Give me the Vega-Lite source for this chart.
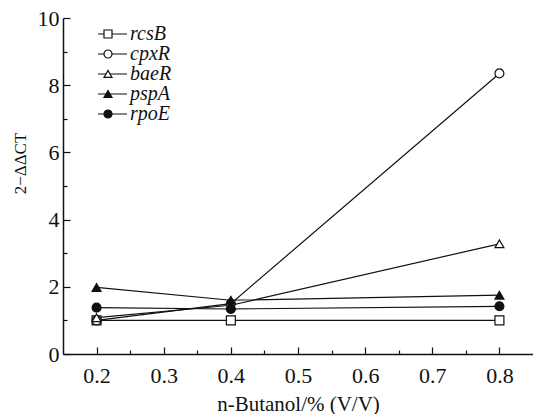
{
  "$schema": "https://vega.github.io/schema/vega-lite/v6.json",
  "width": 470,
  "height": 336,
  "autosize": "none",
  "padding": {"left": 63, "top": 18, "right": 0, "bottom": 60},
  "background": "white",
  "config": {
    "view": {"stroke": null},
    "font": "Liberation Serif",
    "axis": {
      "grid": false,
      "domainColor": "#111",
      "domainWidth": 1.5,
      "tickColor": "#111",
      "tickWidth": 1.2,
      "labelColor": "#111",
      "titleColor": "#111",
      "labelFont": "Liberation Serif",
      "titleFont": "Liberation Serif",
      "labelFontSize": 22,
      "titleFontSize": 21,
      "titleFontWeight": "normal"
    },
    "legend": {"labelFont": "Liberation Serif"}
  },
  "data": {
    "values": [
      {"gene": "rcsB", "conc": 0.2, "value": 1.0},
      {"gene": "rcsB", "conc": 0.4, "value": 1.0},
      {"gene": "rcsB", "conc": 0.8, "value": 1.0},
      {"gene": "cpxR", "conc": 0.2, "value": 1.0},
      {"gene": "cpxR", "conc": 0.4, "value": 1.5},
      {"gene": "cpxR", "conc": 0.8, "value": 8.35},
      {"gene": "baeR", "conc": 0.2, "value": 1.08},
      {"gene": "baeR", "conc": 0.4, "value": 1.45},
      {"gene": "baeR", "conc": 0.8, "value": 3.28},
      {"gene": "pspA", "conc": 0.2, "value": 1.98},
      {"gene": "pspA", "conc": 0.4, "value": 1.6},
      {"gene": "pspA", "conc": 0.8, "value": 1.75},
      {"gene": "rpoE", "conc": 0.2, "value": 1.38},
      {"gene": "rpoE", "conc": 0.4, "value": 1.34},
      {"gene": "rpoE", "conc": 0.8, "value": 1.42}
    ]
  },
  "encoding": {
    "x": {
      "field": "conc",
      "type": "quantitative",
      "scale": {"domain": [0.15, 0.85], "nice": false, "zero": false},
      "axis": {
        "title": "n-Butanol/% (V/V)",
        "values": [0.2, 0.25, 0.3, 0.35, 0.4, 0.45, 0.5, 0.55, 0.6, 0.65, 0.7, 0.75, 0.8],
        "labelExpr": "round(datum.value*100) % 10 == 0 ? format(datum.value, '.1f') : ''",
        "tickSize": {"condition": {"test": "round(datum.value*100) % 10 == 0", "value": -7}, "value": -4},
        "labelPadding": 18,
        "titlePadding": 7
      }
    },
    "y": {
      "field": "value",
      "type": "quantitative",
      "scale": {"domain": [0, 10], "nice": false},
      "axis": {
        "title": "2−ΔΔCT",
        "values": [0, 1, 2, 3, 4, 5, 6, 7, 8, 9, 10],
        "labelExpr": "datum.value % 2 == 0 ? datum.label : ''",
        "tickSize": {"condition": {"test": "datum.value % 2 == 0", "value": -7}, "value": -4},
        "labelPadding": 11,
        "titleFontSize": 17,
        "titlePadding": 8,
        "titleY": 145
      }
    }
  },
  "layer": [
    {
      "mark": {"type": "line", "strokeWidth": 1.2},
      "encoding": {
        "stroke": {
          "field": "gene",
          "type": "nominal",
          "scale": {"range": ["#111", "#111", "#111", "#111", "#111"]},
          "legend": {
            "title": null,
            "orient": "none",
            "legendX": 35,
            "legendY": 6,
            "symbolType": "M-4.75,0H4.75",
            "symbolSize": 64,
            "symbolStrokeWidth": 1.2,
            "labelExpr": "''",
            "labelFontSize": 20,
            "labelOffset": 12,
            "clipHeight": 20,
            "rowPadding": 0,
            "padding": 0
          }
        }
      }
    },
    {
      "mark": {"type": "point", "filled": true, "stroke": "#111", "strokeWidth": 1.2, "size": 80, "opacity": 1},
      "encoding": {
        "shape": {
          "field": "gene",
          "type": "nominal",
          "scale": {"domain": ["rcsB", "cpxR", "baeR", "pspA", "rpoE"], "range": ["square", "circle", "triangle-up", "triangle-up", "circle"]},
          "legend": {
            "title": null,
            "orient": "none",
            "legendX": 35,
            "legendY": 6,
            "symbolSize": 64,
            "symbolStrokeColor": "#111",
            "symbolStrokeWidth": 1.2,
            "symbolOpacity": 1,
            "labelColor": "#111",
            "labelFontSize": 20,
            "labelFontStyle": "italic",
            "labelOffset": 12,
            "clipHeight": 20,
            "rowPadding": 0,
            "padding": 0,
            "encode": {"symbols": {"update": {"stroke": {"value": "#111"}, "strokeWidth": {"value": 1.2}}}}
          }
        },
        "fill": {
          "field": "gene",
          "type": "nominal",
          "scale": {"domain": ["rcsB", "cpxR", "baeR", "pspA", "rpoE"], "range": ["white", "white", "white", "#111", "#111"]},
          "legend": {
            "title": null,
            "orient": "none",
            "legendX": 35,
            "legendY": 6,
            "symbolSize": 64,
            "symbolStrokeColor": "#111",
            "symbolStrokeWidth": 1.2,
            "symbolOpacity": 1,
            "labelColor": "#111",
            "labelFontSize": 20,
            "labelFontStyle": "italic",
            "labelOffset": 12,
            "clipHeight": 20,
            "rowPadding": 0,
            "padding": 0,
            "encode": {"symbols": {"update": {"stroke": {"value": "#111"}, "strokeWidth": {"value": 1.2}}}}
          }
        }
      }
    }
  ]
}
